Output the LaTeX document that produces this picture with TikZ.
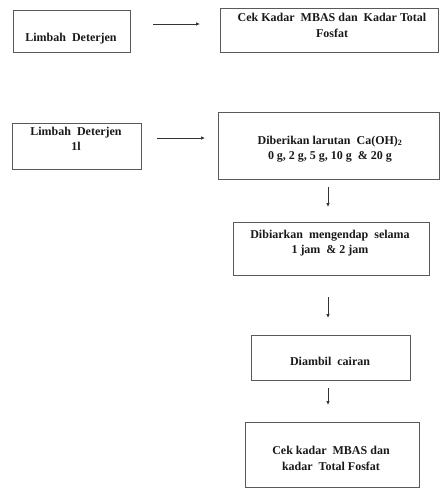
\documentclass[tikz,border=0pt]{standalone}
\usepackage{fontspec}
\setmainfont{Liberation Serif}
\usetikzlibrary{arrows.meta}
\begin{document}
\begin{tikzpicture}[x=1pt,y=-1pt,
  box/.style={draw=black!65,line width=0.8pt,inner sep=0pt},
  txt/.style={inner sep=0pt,align=center,
    font=\bfseries\fontsize{12}{15.5}\selectfont,text=black!90},
  arr/.style={draw=black!80,line width=0.7pt,-{Latex[length=4pt,width=3.5pt]}}]
\useasboundingbox (0,0) rectangle (440,489);
\node[box,minimum width=117pt,minimum height=42pt] (b1) at (71.5,31) {};
\node[box,minimum width=218pt,minimum height=44pt] (b2) at (329.5,30) {};
\node[box,minimum width=129pt,minimum height=46pt] (b3) at (76.5,146) {};
\node[box,minimum width=221pt,minimum height=67pt] (b4) at (329,145.5) {};
\node[box,minimum width=196pt,minimum height=53pt] (b5) at (331,248.5) {};
\node[box,minimum width=159pt,minimum height=45pt] (b6) at (330.5,357.5) {};
\node[box,minimum width=174pt,minimum height=65pt] (b7) at (332,454.5) {};
\node[txt] (t1) at (71,38.5) {Limbah~ Deterjen};
\node[txt] (t2) at (332,25.5) {Cek Kadar~ MBAS dan~ Kadar Total\\Fosfat};
\node[txt] (t3) at (76,139) {Limbah~ Deterjen\\1l};
\node[txt] (t4) at (330,149) {Diberikan larutan~ Ca(OH)\textsubscript{2}\\0 g, 2 g, 5 g, 10 g~ \& 20 g};
\node[txt] (t5) at (330,243) {Dibiarkan~ mengendap~ selama\\1 jam~ \& 2 jam};
\node[txt] (t6) at (330,361) {Diambil~ cairan};
\node[txt] (t7) at (331,458.5) {Cek kadar~ MBAS dan\\kadar~ Total Fosfat};
\coordinate (a1s) at (153,24); \coordinate (a1e) at (200,24);
\coordinate (a2s) at (157,138); \coordinate (a2e) at (205,138);
\coordinate (a3s) at (328,187); \coordinate (a3e) at (328,207);
\coordinate (a4s) at (328,297); \coordinate (a4e) at (328,318);
\coordinate (a5s) at (328,388); \coordinate (a5e) at (328,405);
\draw[arr] (a1s) -- (a1e);
\draw[arr] (a2s) -- (a2e);
\draw[arr] (a3s) -- (a3e);
\draw[arr] (a4s) -- (a4e);
\draw[arr] (a5s) -- (a5e);
\end{tikzpicture}
\end{document}
